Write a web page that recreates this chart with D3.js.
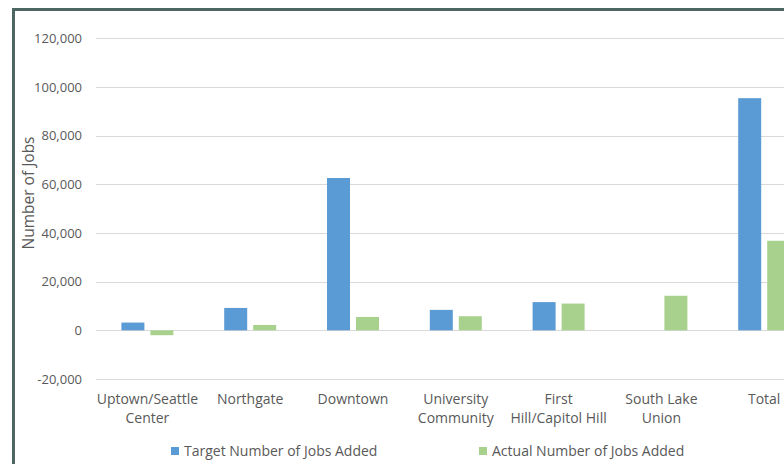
<!DOCTYPE html>
<html>
<head>
<meta charset="utf-8">
<script src="https://cdn.jsdelivr.net/npm/d3@7"></script>
<style>
  html, body { margin: 0; padding: 0; background: #fff; }
  svg { display: block; }
  text { font-family: "Open Sans", "Lato", sans-serif; fill: #595959; }
</style>
</head>
<body>
<svg id="chart" width="784" height="464"></svg>
<script>
const categories = [
  ["Uptown/Seattle", "Center"],
  ["Northgate"],
  ["Downtown"],
  ["University", "Community"],
  ["First", "Hill/Capitol Hill"],
  ["South Lake", "Union"],
  ["Total"]
];
const seriesNames = ["Target Number of Jobs Added", "Actual Number of Jobs Added"];
const targetJobs = [3200, 9200, 62600, 8400, 11600, null, 95400];
const actualJobs = [-2000, 2200, 5500, 5800, 11000, 14200, 36800];
const yTicks = [-20000, 0, 20000, 40000, 60000, 80000, 100000, 120000];
const colors = ["#5b9bd5", "#a9d18e"];

const svg = d3.select("#chart");

// outer border
svg.append("rect").attr("x", 13.5).attr("y", 9.5)
  .attr("width", 900).attr("height", 600)
  .attr("fill", "#fff").attr("stroke", "#4d6661").attr("stroke-width", 3);

const plotLeft = 96, plotRight = 96 + 7 * 102.8;
const y = d3.scaleLinear().domain([-20000, 120000]).range([379, 38.3]);
const catKeys = categories.map((c, i) => i);
const x0 = d3.scaleBand().domain(catKeys).range([plotLeft, plotRight]).padding(0);
const groupW = 52;
const x1 = d3.scaleBand().domain([0, 1])
  .range([(x0.bandwidth() - groupW) / 2, (x0.bandwidth() + groupW) / 2])
  .paddingInner(2 - groupW / 29).paddingOuter(0);

// gridlines
svg.append("g").selectAll("line").data(yTicks).join("line")
  .attr("x1", plotLeft).attr("x2", plotRight)
  .attr("y1", d => Math.round(y(d)) + 0.5).attr("y2", d => Math.round(y(d)) + 0.5)
  .attr("stroke", "#d9d9d9").attr("stroke-width", 1);

// y tick labels
const fmt = d3.format(",");
svg.append("g").selectAll("text").data(yTicks).join("text")
  .attr("x", 82).attr("y", d => y(d)).attr("dy", "0.35em")
  .attr("text-anchor", "end").attr("font-size", 13)
  .text(d => fmt(d).replace("\u2212", "-"));

// bars
const series = [targetJobs, actualJobs];
series.forEach((vals, s) => {
  svg.append("g").selectAll("rect")
    .data(vals.map((v, i) => ({ v, i })).filter(d => d.v !== null))
    .join("rect")
    .attr("x", d => x0(d.i) + x1(s))
    .attr("width", x1.bandwidth())
    .attr("y", d => y(Math.max(0, d.v)))
    .attr("height", d => Math.abs(y(d.v) - y(0)))
    .attr("fill", colors[s]);
});

// category labels
const cat = svg.append("g").selectAll("text").data(categories).join("text")
  .attr("x", (d, i) => x0(i) + x0.bandwidth() / 2)
  .attr("y", 404)
  .attr("text-anchor", "middle").attr("font-size", 14);
cat.selectAll("tspan").data(d => d).join("tspan")
  .attr("x", function () { return d3.select(this.parentNode).attr("x"); })
  .attr("dy", (d, i) => i === 0 ? 0 : 19)
  .text(d => d);

// y axis title
svg.append("text")
  .attr("transform", "translate(34,193) rotate(-90)")
  .attr("text-anchor", "middle").attr("font-size", 15.5)
  .text("Number of Jobs");

// legend
const legendX = [171, 479];
const lg = svg.append("g").selectAll("g").data(seriesNames).join("g")
  .attr("transform", (d, i) => `translate(${legendX[i]},447)`);
lg.append("rect").attr("width", 8).attr("height", 8).attr("fill", (d, i) => colors[i]);
lg.append("text").attr("x", 13).attr("y", 4).attr("dy", "0.35em")
  .attr("font-size", 14).text(d => d);
</script>
</body>
</html>
